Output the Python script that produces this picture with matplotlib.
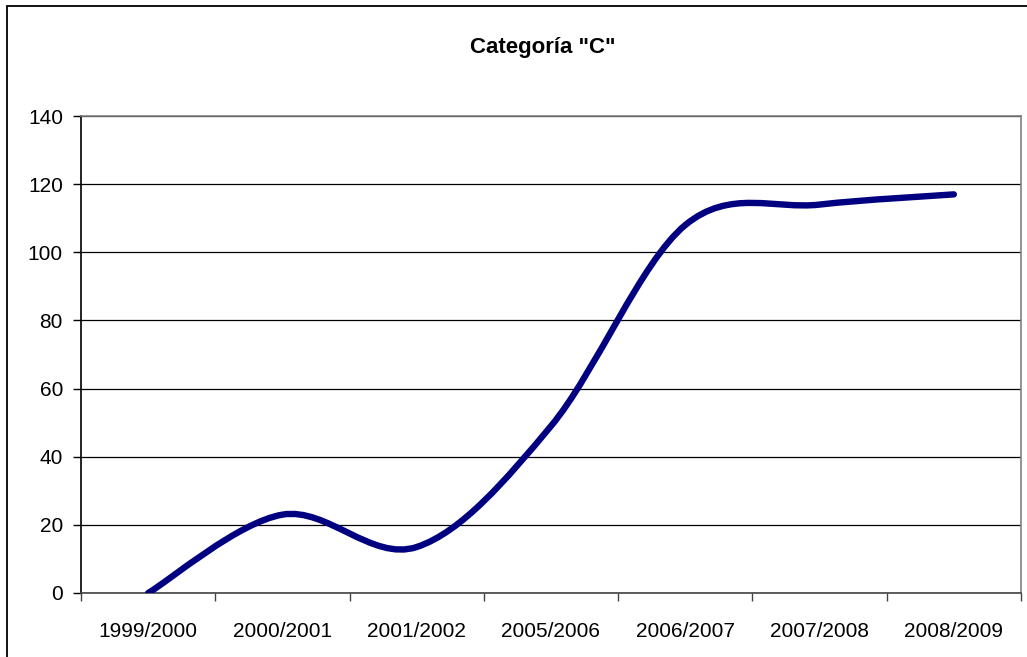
import numpy as np
import matplotlib
matplotlib.use("Agg")
import matplotlib.pyplot as plt
from matplotlib.path import Path
from matplotlib.patches import PathPatch, Rectangle

plt.rcParams["font.family"] = ["Liberation Sans", "DejaVu Sans"]

# data
seasons = ["1999/2000", "2000/2001", "2001/2002", "2005/2006",
           "2006/2007", "2007/2008", "2008/2009"]
values = [0, 23, 13.5, 49, 108, 114, 117]
yticks = [0, 20, 40, 60, 80, 100, 120, 140]


def smooth_path(xs, ys):
    """Excel-style smoothed line: cubic Bezier through each point (Catmull-Rom)."""
    pts = np.column_stack([xs, ys]).astype(float)
    n = len(pts)
    verts = [pts[0]]
    codes = [Path.MOVETO]
    for i in range(n - 1):
        p0 = pts[max(i - 1, 0)]
        p1 = pts[i]
        p2 = pts[i + 1]
        p3 = pts[min(i + 2, n - 1)]
        c1 = p1 + (p2 - p0) / 6.0
        c2 = p2 - (p3 - p1) / 6.0
        verts += [c1, c2, p2]
        codes += [Path.CURVE4] * 3
    return Path(verts, codes)


fig = plt.figure(figsize=(10.27, 6.57), dpi=100)
ax = fig.add_axes([81 / 1027, 1 - 593 / 657, (1021 - 81) / 1027, (593 - 116) / 657])

x = np.arange(len(seasons))
patch = PathPatch(smooth_path(x, values), facecolor="none", edgecolor="#000080",
                  linewidth=4.6, capstyle="round", joinstyle="round", zorder=3)
ax.add_patch(patch)

ax.set_xlim(-0.5, len(seasons) - 0.5)
ax.set_ylim(0, 140)
ax.set_yticks(yticks)
ax.yaxis.grid(True, color="black", linewidth=0.9)
ax.set_axisbelow(True)

# category boundaries get the tick marks, labels sit in the middle
ax.set_xticks(np.arange(-0.5, len(seasons), 1.0))
ax.set_xticklabels([])
ax.set_xticks(x, minor=True)
ax.set_xticklabels(seasons, minor=True)
ax.tick_params(axis="x", which="major", length=6, width=1, color="#444444")
ax.tick_params(axis="x", which="minor", length=0, pad=21, labelsize=15)
ax.tick_params(axis="y", length=6, width=1, pad=7, labelsize=15)

ax.spines["left"].set_color("black")
ax.spines["bottom"].set_color("#444444")
for s in ("top", "right"):
    ax.spines[s].set_color("#808080")
for s in ax.spines.values():
    s.set_linewidth(1.2)

fig.text(543 / 1027, 1 - 48 / 657, 'Categoría "C"', ha="center", va="center",
         fontsize=16, fontweight="bold")

# outer chart border (only left and top edges are inside the picture)
fig.patches.append(Rectangle((7 / 1027, -0.1), 1.2, 1 - 6 / 657 + 0.1,
                             transform=fig.transFigure, fill=False,
                             edgecolor="black", linewidth=1.3))

fig.savefig("out.png", dpi=100)
